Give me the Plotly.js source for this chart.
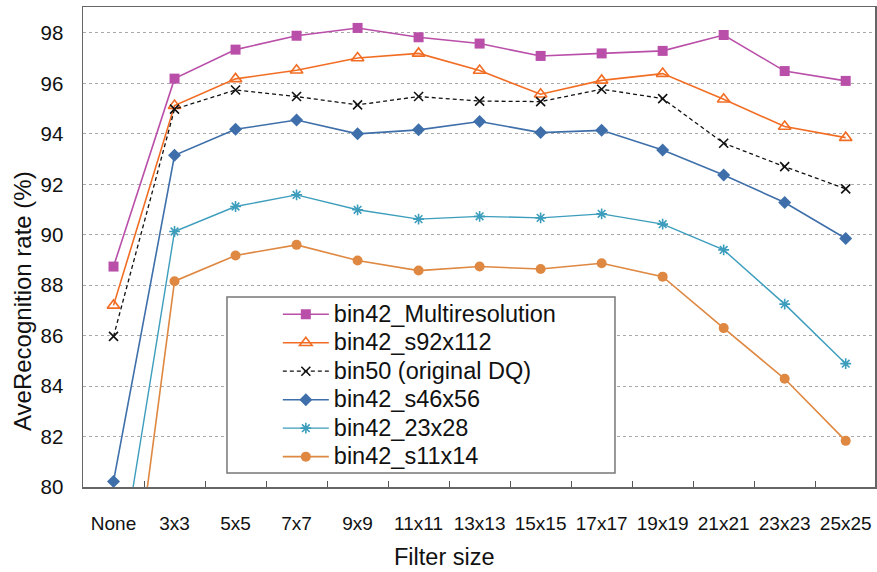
<!DOCTYPE html>
<html>
<head>
<meta charset="utf-8">
<script src="https://cdn.plot.ly/plotly-3.0.1.min.js"></script>
<style>html,body{margin:0;padding:0;background:#fff;}#chart{width:877px;height:572px;}</style>
</head>
<body>
<div id="chart"></div>
<script>
var categories = ["None","3x3","5x5","7x7","9x9","11x11","13x13","15x15","17x17","19x19","21x21","23x23","25x25"];
var seriesNames = ["bin42_Multiresolution","bin42_s92x112","bin50 (original DQ)","bin42_s46x56","bin42_23x28","bin42_s11x14"];
var multiresolution = [88.74, 96.19, 97.34, 97.89, 98.20, 97.83, 97.58, 97.09, 97.19, 97.29, 97.92, 96.49, 96.10];
var s92x112 = [87.20, 95.12, 96.18, 96.52, 97.01, 97.19, 96.51, 95.57, 96.12, 96.39, 95.37, 94.29, 93.85];
var bin50 = [85.97, 94.98, 95.74, 95.48, 95.15, 95.48, 95.30, 95.28, 95.77, 95.40, 93.63, 92.70, 91.82];
var s46x56 = [80.22, 93.15, 94.18, 94.55, 94.00, 94.16, 94.49, 94.05, 94.14, 93.36, 92.37, 91.28, 89.85];
var s23x28 = [75.2, 90.13, 91.12, 91.58, 90.99, 90.62, 90.73, 90.67, 90.83, 90.42, 89.40, 87.25, 84.89];
var s11x14 = [69.8, 88.16, 89.18, 89.60, 88.98, 88.58, 88.74, 88.64, 88.87, 88.34, 86.30, 84.29, 81.83];
var yTicks = [80, 82, 84, 86, 88, 90, 92, 94, 96, 98];
var xTitle = 'Filter size';
var yTitle = 'AveRecognition rate (%)';

var styles = [
  {color:'#B94FA9', dash:'solid', symbol:'square', size:10, lw:1.6},
  {color:'#F26D24', dash:'solid', symbol:'triangle-up-open', size:11, lw:1.6},
  {color:'#111111', dash:'4px,3px', symbol:'x-thin-open', size:9, lw:1.3},
  {color:'#3E6FAA', dash:'solid', symbol:'diamond', size:10, lw:1.6},
  {color:'#3C9DBC', dash:'solid', symbol:'asterisk-open', size:9, lw:1.4},
  {color:'#DE8842', dash:'solid', symbol:'circle', size:10, lw:1.6}
];
var allSeries = [multiresolution, s92x112, bin50, s46x56, s23x28, s11x14];

var traces = allSeries.map(function(vals, i){
  var s = styles[i];
  return {
    x: categories, y: vals,
    name: '<span style="font-size:23.5px">' + seriesNames[i] + '</span>',
    type:'scatter', mode:'lines+markers',
    line:{color:s.color, width:s.lw, dash:s.dash},
    marker:{symbol:s.symbol, size:s.size, color:s.color, line:{color:s.color, width:(s.symbol.indexOf('open')>=0?1.6:0)}},
    cliponaxis: true
  };
});

var font = "Arial, 'Liberation Sans', sans-serif";
var layout = {
  width:877, height:572,
  margin:{l:83, r:2, t:7, b:85},
  paper_bgcolor:'#fff', plot_bgcolor:'#fff',
  showlegend:true,
  font:{family:font, color:'#111'},
  xaxis:{
    type:'category', range:[-0.5, 12.48],
    showline:true, linecolor:'#666', linewidth:1.5, mirror:true,
    ticks:'inside', ticklen:6, tickcolor:'#555', tickson:'boundaries',
    showgrid:false, zeroline:false, tickangle:0,
    tickfont:{size:19, family:font, color:'#111'},
    ticklabelstandoff:19
  },
  yaxis:{
    range:[80, 99.03], tickvals:yTicks,
    showline:true, linecolor:'#666', linewidth:1.5, mirror:true,
    ticks:'', showgrid:true, gridcolor:'#aaaaaa', griddash:'dot', gridwidth:1,
    zeroline:false,
    tickfont:{size:20.5, family:font, color:'#111'},
    ticklabelstandoff:14
  },
  annotations:[
    {text:yTitle, xref:'paper', yref:'paper', x:-0.077, y:0.3875, xanchor:'center', yanchor:'middle',
     textangle:-90, showarrow:false, font:{size:24, family:font, color:'#111'}},
    {text:xTitle, xref:'paper', yref:'paper', x:0.457, y:-0.146, xanchor:'center', yanchor:'middle',
     showarrow:false, font:{size:23.5, family:font, color:'#111'}}
  ],
  shapes:[{type:'rect', xref:'paper', yref:'paper', x0:0.1818, x1:0.6717, y0:0.029, y1:0.396,
           fillcolor:'#ffffff', line:{color:'#777', width:1.5}, layer:'above'}],
  legend:{x:0.246, y:0.400, xanchor:'left', yanchor:'top', bgcolor:'rgba(0,0,0,0)', borderwidth:0,
          font:{size:19.6, family:font, color:'#111'}, itemwidth:46, tracegroupgap:0}
};

Plotly.newPlot('chart', traces, layout, {displayModeBar:false, staticPlot:true});
</script>
</body>
</html>
